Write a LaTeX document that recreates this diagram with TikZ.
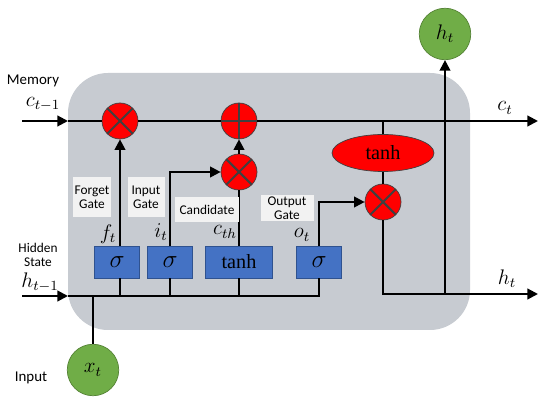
\documentclass[tikz,border=0pt]{standalone}
\usepackage{fontspec}
\setmainfont{Liberation Serif}
\newfontfamily\labelfont{Carlito}
\usetikzlibrary{arrows.meta}
\usetikzlibrary{shapes.geometric}

\definecolor{cellgray}{RGB}{199,203,209}
\definecolor{gateblue}{RGB}{68,114,196}
\definecolor{gateedge}{RGB}{47,82,143}
\definecolor{iogreen}{RGB}{112,173,71}
\definecolor{iogreenedge}{RGB}{84,130,53}
\definecolor{taggray}{RGB}{242,242,242}

\tikzset{
  flow/.style={line width=1.2pt},
  arr/.style={flow, -{Triangle[length=6pt,width=6pt]}},
  opcirc/.style={circle, fill=red, draw=black!75, minimum size=0.72cm, inner sep=0pt},
  mulop/.style={opcirc, path picture={
      \draw[line width=1.2pt] (path picture bounding box.north west) -- (path picture bounding box.south east)
        (path picture bounding box.north east) -- (path picture bounding box.south west);}},
  addop/.style={opcirc, path picture={
      \draw[line width=1.2pt] (path picture bounding box.north) -- (path picture bounding box.south)
        (path picture bounding box.west) -- (path picture bounding box.east);}},
  tanhop/.style={ellipse, fill=red, draw=black!75, minimum width=2.04cm, minimum height=0.74cm, inner sep=0pt, font=\fontsize{11.5}{12}\selectfont},
  gatebox/.style={rectangle, fill=gateblue, draw=gateedge, minimum width=0.9cm, minimum height=0.64cm, inner sep=0pt, font=\fontsize{15}{15}\selectfont},
  iocirc/.style={circle, fill=iogreen, draw=iogreenedge, minimum size=1.03cm, inner sep=0pt, font=\large},
  tag/.style={fill=taggray, font=\labelfont\fontsize{7.6}{8}\selectfont, align=center, inner sep=0pt},
  sidelabel/.style={font=\labelfont\fontsize{8.5}{10}\selectfont, align=center},
  varlabel/.style={font=\large, inner sep=0pt},
}

\begin{document}
\begin{tikzpicture}[x=0.02cm, y=-0.02cm]
\useasboundingbox (0,0) rectangle (550,404);
% cell body
\fill[cellgray, rounded corners=0.8cm] (68,73) rectangle (470,330);

% operators
\node[mulop] (fmul) at (120,121) {};
\node[addop] (cadd) at (239,121) {};
\node[mulop] (imul) at (239,172) {};
\node[mulop] (omul) at (383,202) {};
\node[tanhop] (ctanh) at (383,153) {tanh};

% gate layers
\node[gatebox] (fsig) at (117,262) {$\sigma$};
\node[gatebox] (isig) at (170,262) {$\sigma$};
\node[gatebox, minimum width=1.34cm, font=\fontsize{11.5}{12}\selectfont] (csig) at (239,262) {tanh};
\node[gatebox] (osig) at (319,262) {$\sigma$};

% input / output
\node[iocirc] (xt) at (93,370) {$x_t$};
\node[iocirc] (ht) at (445,34) {$h_t$};

\coordinate (cin) at (22,121);
\coordinate (cedge) at (68,121);
\coordinate (cout) at (538,121);
\coordinate (hin) at (22,296);
\coordinate (hedge) at (68,296);
\coordinate (hout) at (538,294);

% memory line
\draw[arr] (cin) -- (cedge);
\draw[flow] (cedge) -- (fmul) -- (cadd);
\draw[arr] (cadd) -- (cout);
\draw[flow] (ctanh.north) -- (ctanh.north |- cout);
\draw[flow] (ctanh) -- (omul);
\draw[arr] (imul) -- (cadd);

% gates to operators
\draw[arr] (fmul |- fsig.north) -- (fmul);
\draw[arr] (isig) |- (imul);
\draw[flow] (csig) -- (imul);
\draw[arr] (osig) |- (omul);

% hidden state line
\draw[arr] (hin) -- (hedge);
\draw[flow] (hedge) -| (osig);
\draw[flow] (fmul |- fsig.south) -- (fmul |- hedge);
\draw[flow] (isig) -- (isig |- hedge);
\draw[flow] (csig) -- (csig |- hedge);
\draw[flow] (xt) -- (xt |- hedge);

% outputs
\draw[arr] (omul) |- (hout);
\draw[arr] (ht |- hout) -- (ht);

% tags
\node[tag, minimum width=0.76cm, minimum height=0.8cm] (ftag) at (92,197) {Forget\\Gate};
\node[tag, minimum width=0.74cm, minimum height=0.8cm] (itag) at (146,197) {Input\\Gate};
\node[tag, minimum width=1.3cm, minimum height=0.5cm] (ctag) at (207,210) {Candidate};
\node[tag, minimum width=1.06cm, minimum height=0.52cm] (otag) at (287,208) {Output\\Gate};

% variable labels
\node[varlabel] (flab) at (108,234) {$f_t$};
\node[varlabel] (ilab) at (161,232) {$i_t$};
\node[varlabel] (clab) at (225,232) {$c_{th}$};
\node[varlabel] (olab) at (302,235) {$o_t$};
\node[varlabel] (cprev) at (43,104) {$c_{t-1}$};
\node[varlabel] (hprev) at (40,282) {$h_{t-1}$};
\node[varlabel] (cnext) at (505,108) {$c_t$};
\node[varlabel] (hnext) at (507,279) {$h_t$};

% side labels
\node[sidelabel] (memlab) at (33,81) {Memory};
\node[sidelabel, font=\labelfont\fontsize{7.6}{8}\selectfont] (hidlab) at (38,255) {Hidden\\State};
\node[sidelabel] (inlab) at (31,378) {Input};
\end{tikzpicture}
\end{document}
